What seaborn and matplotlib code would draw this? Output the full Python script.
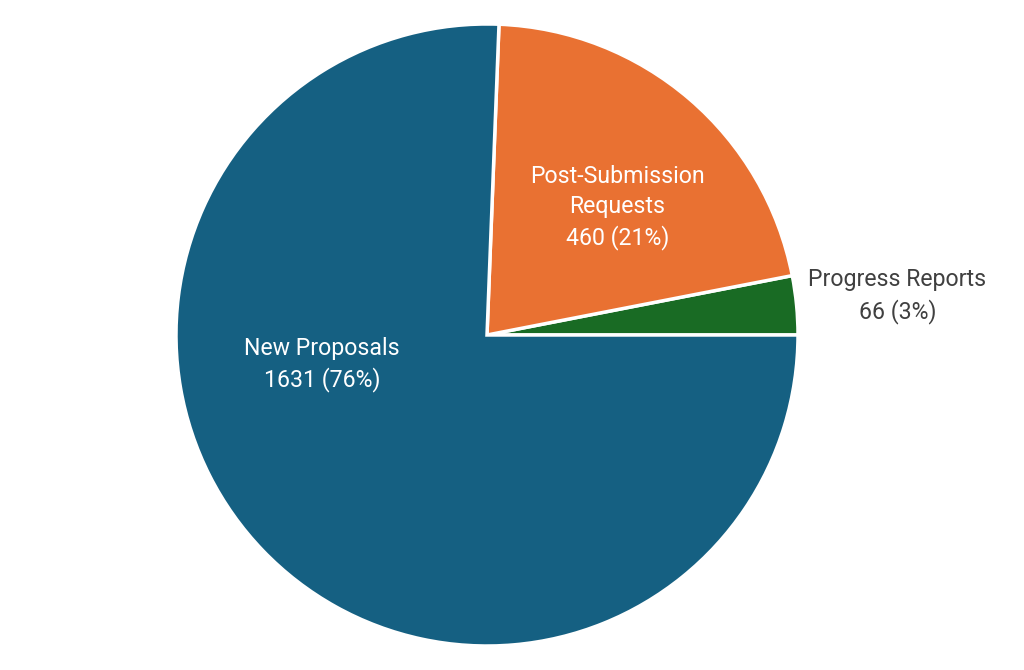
import numpy as np
import matplotlib.pyplot as plt
import seaborn as sns

sns.set_theme(style="white")
plt.rcParams['font.family'] = ['Roboto', 'DejaVu Sans']

# data, in drawing order (counter-clockwise from 3 o'clock)
categories = ['Progress Reports', 'Post-Submission\nRequests', 'New Proposals']
counts = [66, 460, 1631]
colors = ['#196B24', '#E97132', '#156082']
text_colors = ['#404040', 'white', 'white']
# label anchor points in pie-radius units
label_xy = [(1.32, 0.125), (0.42, 0.41), (-0.53, -0.095)]

fig = plt.figure(figsize=(10.24, 6.70), dpi=100)
ax = fig.add_axes([(487 - 311) / 1024, (335 - 311) / 670, 622 / 1024, 622 / 670])

wedges, _ = ax.pie(counts, colors=colors, startangle=0, counterclock=True,
                   radius=1.0, wedgeprops=dict(edgecolor='white', linewidth=2.5))

total = sum(counts)
for cat, n, (x, y), tc in zip(categories, counts, label_xy, text_colors):
    pct = round(100 * n / total)
    ax.text(x, y, f'{cat}\n{n} ({pct}%)', ha='center', va='center',
            color=tc, fontsize=16.7, linespacing=1.4)

ax.set_xlim(-1, 1)
ax.set_ylim(-1, 1)
ax.set_aspect('equal')
ax.axis('off')

fig.savefig('out.png', dpi=100)
